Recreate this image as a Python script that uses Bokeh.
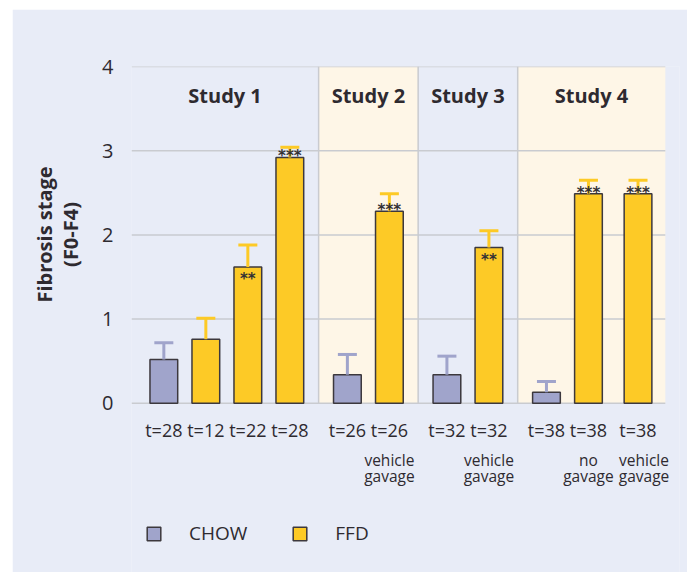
from bokeh.plotting import figure
from bokeh.models import ColumnDataSource, FixedTicker, Range1d, Legend, LegendItem
from bokeh.embed import file_html
from bokeh.resources import INLINE
from bokeh.core.properties import value

# ---------------- data ----------------
studies = ["Study 1", "Study 2", "Study 3", "Study 4"]
study_of_bar = [0, 0, 0, 0, 1, 1, 2, 2, 3, 3, 3]
groups = ["CHOW", "FFD", "FFD", "FFD", "CHOW", "FFD", "CHOW", "FFD", "CHOW", "FFD", "FFD"]
time_labels = ["t=28", "t=12", "t=22", "t=28", "t=26", "t=26", "t=32", "t=32", "t=38", "t=38", "t=38"]
sub_labels = ["", "", "", "", "", "vehicle\ngavage", "", "vehicle\ngavage", "", "no\ngavage", "vehicle\ngavage"]
means = [0.52, 0.76, 1.62, 2.92, 0.34, 2.28, 0.34, 1.85, 0.13, 2.49, 2.49]
errors = [0.20, 0.25, 0.26, 0.12, 0.24, 0.21, 0.22, 0.20, 0.13, 0.16, 0.16]
stars = ["", "", "**", "***", "", "***", "", "**", "", "***", "***"]
y_ticks = [0, 1, 2, 3, 4]
y_title_lines = ["Fibrosis stage", "(F0-F4)"]

# ---------------- styling / layout ----------------
FONT = "Open Sans"
TXT = "#2e2a30"
BG = "#e8ecf7"
CREAM = "#fef6e7"
GRID = "#c9cbd0"
COLORS = {"CHOW": "#a0a4cb", "FFD": "#fdca26"}
OUTLINE = "#3c383d"

GAP = 0.37          # extra space between studies (in bar slots)
WIDE_GAP = 0.18     # extra space between neighbours that both carry two-line sub labels
OFFSET = 0.77
XMAX = 12.71        # right end of the plotting panel
PX_PER_X = 42.0
PX_PER_UNIT = 84.2
W, H = 675, 563
TOP_B, LEFT_B = 57, 119
FRAME_W = 548
RIGHT_B = W - LEFT_B - FRAME_W
FRAME_H = H - TOP_B
X_END = FRAME_W / PX_PER_X

xs = []
pos = OFFSET
for i, s in enumerate(study_of_bar):
    if i > 0:
        pos += 1
        if s != study_of_bar[i - 1]:
            pos += GAP
        elif sub_labels[i] and sub_labels[i - 1]:
            pos += WIDE_GAP
    xs.append(pos)
tops = [m + e for m, e in zip(means, errors)]

# study region boundaries
bounds = [0.0]
for g in range(1, len(studies)):
    last = max(x for x, s in zip(xs, study_of_bar) if s == g - 1)
    first = min(x for x, s in zip(xs, study_of_bar) if s == g)
    bounds.append((last + first) / 2)
bounds.append(XMAX)

y_start = y_ticks[-1] - FRAME_H / PX_PER_UNIT

p = figure(width=W, height=H, output_backend="svg", toolbar_location=None,
           x_range=Range1d(0, X_END), y_range=Range1d(y_start, y_ticks[-1]),
           min_border_left=LEFT_B, min_border_right=RIGHT_B, min_border_top=TOP_B,
           min_border_bottom=0, x_axis_type=None)
p.margin = (9, 0, 0, 12)
p.background_fill_color = BG
p.border_fill_color = BG
p.outline_line_color = None
p.xgrid.visible = False
p.ygrid.visible = False

# full-frame background (hides any seam at the frame edge)
p.quad(left=0, right=X_END, bottom=y_start, top=y_ticks[-1], fill_color=BG, line_color=None)

# study bands
band_src = ColumnDataSource(dict(
    left=bounds[:-1], right=bounds[1:],
    color=[BG if i % 2 == 0 else CREAM for i in range(len(studies))]))
p.quad(left="left", right="right", bottom=0, top=y_ticks[-1], fill_color="color",
       line_color=None, source=band_src)

# grid lines and study dividers
p.segment(x0=0, x1=XMAX, y0=y_ticks, y1=y_ticks, line_color=GRID, line_width=1.5)
p.segment(x0=bounds[1:-1], x1=bounds[1:-1], y0=0, y1=y_ticks[-1], line_color=GRID, line_width=1.5)

# study titles
p.text(x=[(bounds[i] + bounds[i + 1]) / 2 for i in range(len(studies))], y=3.65, text=studies,
       text_font=value(FONT), text_font_style="bold", text_font_size="20px",
       text_color=TXT, text_align="center", text_baseline="middle")

# bars + upward error bars per series
renderers = {}
for gname in ["CHOW", "FFD"]:
    idx = [i for i, g in enumerate(groups) if g == gname]
    src = ColumnDataSource(dict(x=[xs[i] for i in idx], mean=[means[i] for i in idx],
                                top=[tops[i] for i in idx]))
    r = p.vbar(x="x", top="mean", bottom=0, width=0.66, source=src,
               fill_color=COLORS[gname], line_color=OUTLINE, line_width=1.5)
    renderers[gname] = r
    p.segment(x0="x", x1="x", y0="mean", y1="top", source=src,
              line_color=COLORS[gname], line_width=3)
    p.scatter(x="x", y="top", marker="dash", size=19, source=src,
              line_color=COLORS[gname], line_width=3)

# significance stars
star_src = ColumnDataSource(dict(x=xs, y=means, text=stars,
                                 off=[-1 if s == "***" else 12 for s in stars]))
p.text(x="x", y="y", text="text", y_offset="off", source=star_src,
       text_font=value("DejaVu Sans"), text_font_style="bold", text_font_size="15px",
       text_color="#333135", text_align="center", text_baseline="middle")

# category labels
p.text(x=xs, y=-0.317, text=time_labels, text_font=value(FONT), text_font_size="18px",
       text_color=TXT, text_align="center", text_baseline="middle")
line1 = [s.split("\n")[0] if s else "" for s in sub_labels]
line2 = [s.split("\n")[1] if s else "" for s in sub_labels]
sub_off = [6 if (i > 0 and sub_labels[i] and sub_labels[i - 1]) else 0 for i in range(len(xs))]
for txt, yv in ((line1, -0.674), (line2, -0.859)):
    p.text(x=xs, y=yv, text=txt, x_offset=sub_off, text_font=value(FONT), text_font_size="15.5px",
           text_color=TXT, text_align="center", text_baseline="middle")

# y axis
p.yaxis.ticker = FixedTicker(ticks=y_ticks)
p.yaxis.axis_line_color = None
p.yaxis.major_tick_line_color = None
p.yaxis.minor_tick_line_color = None
p.yaxis.major_label_text_font = FONT
p.yaxis.major_label_text_font_size = "20px"
p.yaxis.major_label_text_color = TXT
p.yaxis.major_label_standoff = 12

# axis title: the axis centres it on the whole frame, but it belongs to the 0-4 scale,
# so lead each line with fixed-width spaces (em + en) that lift it by half their width
frame_centre_px = FRAME_H / 2
scale_centre_px = (y_ticks[-1] - (y_ticks[0] + y_ticks[-1]) / 2) * PX_PER_UNIT
lift = frame_centre_px - scale_centre_px          # px to move the title up
lead_px = 2 * lift
n_em = int(lead_px // 20)
n_en = int(round((lead_px - 20 * n_em) / 10))
lead = "\u2003" * n_em + "\u2002" * n_en
p.yaxis.axis_label = "\n".join(lead + ln for ln in y_title_lines)
p.yaxis.axis_label_text_font = FONT
p.yaxis.axis_label_text_font_style = "bold"
p.yaxis.axis_label_text_font_size = "20px"
p.yaxis.axis_label_text_color = TXT
p.yaxis.axis_label_text_line_height = 0.97
p.yaxis.axis_label_standoff = 15

# legend
legend = Legend(items=[LegendItem(label=g, renderers=[renderers[g]]) for g in ["CHOW", "FFD"]],
                location=(14, 26), orientation="horizontal", glyph_width=17, glyph_height=17,
                label_standoff=27, spacing=44, padding=0, margin=0,
                border_line_color=None, background_fill_alpha=0,
                label_text_font=FONT, label_text_font_size="19px", label_text_color=TXT)
p.add_layout(legend)

open("out.html", "w").write(file_html(p, INLINE))
